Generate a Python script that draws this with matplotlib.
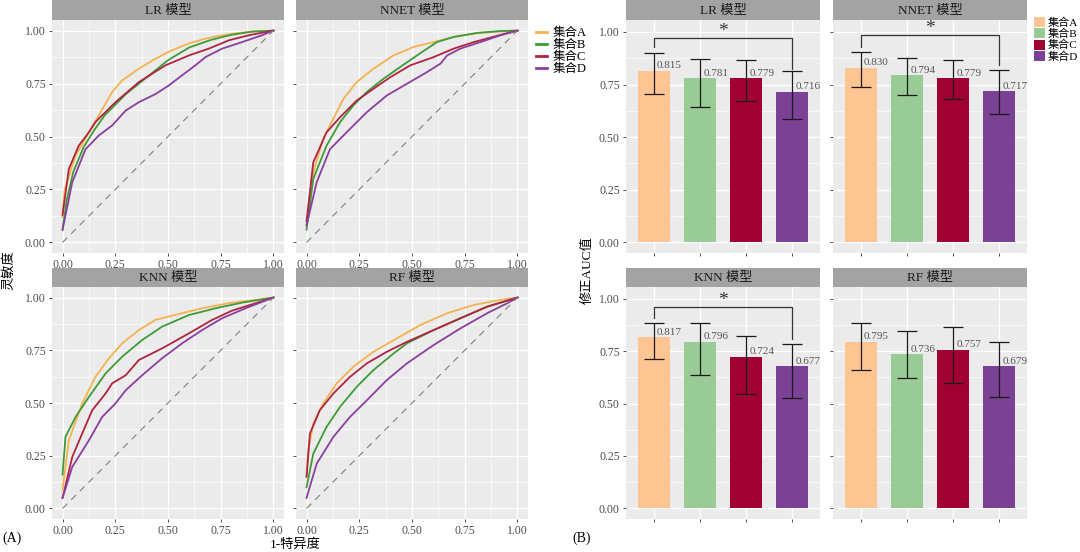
import matplotlib
matplotlib.use("Agg")
import matplotlib.pyplot as plt
from matplotlib.lines import Line2D
from matplotlib.patches import Patch
import numpy as np

plt.rcParams['font.family'] = ['Liberation Serif', 'Noto Sans CJK SC']

# ---- data ----
groups = ['集合A', '集合B', '集合C', '集合D']
models = ['LR 模型', 'NNET 模型', 'KNN 模型', 'RF 模型']

# ROC curves (fpr, tpr)
lr_a_fpr = [0, 0.01, 0.062, 0.125, 0.172, 0.235, 0.283, 0.362, 0.44, 0.504, 0.6, 0.678, 0.757, 0.836, 0.915, 1]
lr_a_tpr = [0.12, 0.25, 0.41, 0.52, 0.60, 0.71, 0.765, 0.82, 0.867, 0.90, 0.94, 0.962, 0.978, 0.989, 0.997, 1]
lr_b_fpr = [0, 0.02, 0.05, 0.1, 0.15, 0.2, 0.25, 0.3, 0.35, 0.4, 0.45, 0.5, 0.55, 0.6, 0.7, 0.8, 0.9, 1]
lr_b_tpr = [0.06, 0.2, 0.33, 0.45, 0.53, 0.6, 0.65, 0.70, 0.74, 0.78, 0.82, 0.86, 0.89, 0.92, 0.955, 0.98, 0.995, 1]
lr_c_fpr = [0, 0.03, 0.077, 0.125, 0.156, 0.172, 0.251, 0.362, 0.488, 0.6, 0.694, 0.788, 0.883, 1]
lr_c_tpr = [0.13, 0.347, 0.457, 0.52, 0.568, 0.584, 0.662, 0.757, 0.836, 0.883, 0.915, 0.954, 0.978, 1]
lr_d_fpr = [0, 0.046, 0.109, 0.172, 0.235, 0.3, 0.362, 0.44, 0.504, 0.567, 0.63, 0.678, 0.757, 0.852, 0.946, 1]
lr_d_tpr = [0.06, 0.284, 0.44, 0.505, 0.552, 0.623, 0.662, 0.70, 0.741, 0.789, 0.836, 0.875, 0.915, 0.946, 0.978, 1]

nnet_a_fpr = [0, 0.032, 0.079, 0.127, 0.175, 0.238, 0.317, 0.413, 0.508, 0.603, 0.698, 0.81, 1]
nnet_a_tpr = [0.08, 0.33, 0.49, 0.584, 0.678, 0.757, 0.82, 0.883, 0.923, 0.946, 0.97, 0.989, 1]
nnet_b_fpr = [0, 0.032, 0.095, 0.159, 0.222, 0.286, 0.365, 0.444, 0.524, 0.619, 0.698, 0.81, 0.92, 1]
nnet_b_tpr = [0.06, 0.30, 0.457, 0.568, 0.647, 0.71, 0.773, 0.828, 0.883, 0.946, 0.97, 0.989, 0.998, 1]
nnet_c_fpr = [0, 0.032, 0.095, 0.159, 0.238, 0.317, 0.397, 0.492, 0.603, 0.698, 0.794, 0.92, 1]
nnet_c_tpr = [0.10, 0.378, 0.52, 0.591, 0.67, 0.725, 0.78, 0.836, 0.875, 0.915, 0.946, 0.98, 1]
nnet_d_fpr = [0, 0.048, 0.111, 0.19, 0.286, 0.381, 0.476, 0.571, 0.635, 0.667, 0.73, 0.825, 0.92, 1]
nnet_d_tpr = [0.08, 0.284, 0.44, 0.52, 0.615, 0.694, 0.749, 0.804, 0.844, 0.883, 0.915, 0.946, 0.978, 1]

knn_a_fpr = [0, 0.03, 0.093, 0.156, 0.22, 0.283, 0.362, 0.44, 0.567, 0.662, 0.788, 0.915, 1]
knn_a_tpr = [0.09, 0.323, 0.498, 0.624, 0.712, 0.783, 0.846, 0.894, 0.926, 0.949, 0.973, 0.989, 1]
knn_b_fpr = [0, 0.014, 0.062, 0.125, 0.204, 0.283, 0.378, 0.472, 0.599, 0.725, 0.852, 1]
knn_b_tpr = [0.16, 0.34, 0.434, 0.529, 0.64, 0.72, 0.799, 0.862, 0.917, 0.949, 0.976, 1]
knn_c_fpr = [0, 0.046, 0.093, 0.141, 0.204, 0.235, 0.30, 0.362, 0.472, 0.599, 0.709, 0.804, 0.915, 1]
knn_c_tpr = [0.05, 0.244, 0.355, 0.466, 0.545, 0.593, 0.632, 0.704, 0.759, 0.83, 0.894, 0.938, 0.973, 1]
knn_d_fpr = [0, 0.046, 0.125, 0.188, 0.251, 0.30, 0.378, 0.472, 0.567, 0.662, 0.757, 0.867, 1]
knn_d_tpr = [0.05, 0.197, 0.323, 0.434, 0.498, 0.561, 0.632, 0.712, 0.783, 0.846, 0.902, 0.949, 1]

rf_a_fpr = [0, 0.008, 0.032, 0.079, 0.143, 0.222, 0.317, 0.429, 0.54, 0.667, 0.794, 0.92, 1]
rf_a_tpr = [0.15, 0.276, 0.403, 0.498, 0.593, 0.672, 0.743, 0.807, 0.87, 0.926, 0.965, 0.989, 1]
rf_b_fpr = [0, 0.032, 0.095, 0.159, 0.238, 0.317, 0.413, 0.476, 0.603, 0.73, 0.857, 1]
rf_b_tpr = [0.10, 0.26, 0.387, 0.482, 0.577, 0.656, 0.735, 0.783, 0.846, 0.902, 0.957, 1]
rf_c_fpr = [0, 0.016, 0.063, 0.127, 0.206, 0.286, 0.381, 0.476, 0.603, 0.73, 0.857, 1]
rf_c_tpr = [0.15, 0.355, 0.466, 0.545, 0.624, 0.688, 0.743, 0.79, 0.846, 0.902, 0.957, 1]
rf_d_fpr = [0, 0.048, 0.127, 0.206, 0.286, 0.381, 0.476, 0.603, 0.73, 0.857, 0.952, 1]
rf_d_tpr = [0.05, 0.212, 0.339, 0.434, 0.513, 0.609, 0.688, 0.775, 0.854, 0.926, 0.973, 1]

# corrected AUC with CI
lr_auc = [0.815, 0.781, 0.779, 0.716]
lr_lo = [0.705, 0.642, 0.672, 0.584]
lr_hi = [0.90, 0.873, 0.865, 0.814]
nnet_auc = [0.830, 0.794, 0.779, 0.717]
nnet_lo = [0.740, 0.699, 0.682, 0.608]
nnet_hi = [0.904, 0.874, 0.866, 0.817]
knn_auc = [0.817, 0.796, 0.724, 0.677]
knn_lo = [0.713, 0.634, 0.544, 0.528]
knn_hi = [0.886, 0.883, 0.822, 0.784]
rf_auc = [0.795, 0.736, 0.757, 0.679]
rf_lo = [0.658, 0.624, 0.599, 0.532]
rf_hi = [0.886, 0.845, 0.866, 0.795]

# significance bracket A vs D: (bar level, left leg end, right leg end)
lr_sig = (0.971, 0.928, 0.823)
nnet_sig = (0.984, 0.93, 0.845)
knn_sig = (0.962, 0.91, 0.808)
rf_sig = None

line_colors = ['#F5B24F', '#3E9B38', '#B0243F', '#8A3F9E']
bar_colors = ['#FDC591', '#98CB96', '#A10032', '#7B4195']

W, H = 1080, 552
fig = plt.figure(figsize=(W / 100, H / 100), dpi=100)


def px_axes(x0, y0, x1, y1):
    return fig.add_axes([x0 / W, 1 - y1 / H, (x1 - x0) / W, (y1 - y0) / H])


def gg_style(ax):
    ax.set_facecolor('#EBEBEB')
    for s in ax.spines.values():
        s.set_visible(False)
    ax.grid(True, which='major', color='white', lw=1.0)
    ax.grid(True, which='minor', color='white', lw=0.5)
    ax.set_axisbelow(True)
    ax.tick_params(which='major', length=2.5, width=0.6, color='#333333',
                   labelsize=8.5, labelcolor='#4D4D4D', pad=2)
    ax.tick_params(which='minor', length=0)


def strip(x0, y0, x1, y1, label):
    s = px_axes(x0, y0, x1, y1)
    s.set_facecolor('#A3A3A3')
    s.set_xticks([])
    s.set_yticks([])
    for sp in s.spines.values():
        sp.set_visible(False)
    s.text(0.5, 0.45, label, ha='center', va='center', fontsize=9.5,
           color='#1A1A1A', transform=s.transAxes)


roc_data = [
    [(lr_a_fpr, lr_a_tpr), (lr_b_fpr, lr_b_tpr), (lr_c_fpr, lr_c_tpr), (lr_d_fpr, lr_d_tpr)],
    [(nnet_a_fpr, nnet_a_tpr), (nnet_b_fpr, nnet_b_tpr), (nnet_c_fpr, nnet_c_tpr), (nnet_d_fpr, nnet_d_tpr)],
    [(knn_a_fpr, knn_a_tpr), (knn_b_fpr, knn_b_tpr), (knn_c_fpr, knn_c_tpr), (knn_d_fpr, knn_d_tpr)],
    [(rf_a_fpr, rf_a_tpr), (rf_b_fpr, rf_b_tpr), (rf_c_fpr, rf_c_tpr), (rf_d_fpr, rf_d_tpr)],
]
bar_data = [
    (lr_auc, lr_lo, lr_hi, lr_sig),
    (nnet_auc, nnet_lo, nnet_hi, nnet_sig),
    (knn_auc, knn_lo, knn_hi, knn_sig),
    (rf_auc, rf_lo, rf_hi, rf_sig),
]

# facet boxes in pixels: (x0, x1) columns, (strip top, panel top, panel bottom) rows
roc_cols = [(52, 284), (296, 528)]
bar_cols = [(626, 820), (833, 1027)]
rows = [(0, 20, 253), (268, 287, 519)]

ticks = [0, 0.25, 0.5, 0.75, 1.0]
ticklabels = ['0.00', '0.25', '0.50', '0.75', '1.00']

for k in range(4):
    r, c = divmod(k, 2)
    st, y0, y1 = rows[r]

    # ROC panel
    x0, x1 = roc_cols[c]
    strip(x0, st, x1, y0, models[k])
    ax = px_axes(x0, y0, x1, y1)
    gg_style(ax)
    for g in range(4):
        f, t = roc_data[k][g]
        ax.plot(f, t, color=line_colors[g], lw=1.3, solid_joinstyle='round')
    ax.plot([0, 1], [0, 1], color='#7F7F7F', lw=0.8, ls=(0, (6, 5)))
    ax.set_xlim(-0.05, 1.05)
    ax.set_ylim(-0.05, 1.05)
    ax.set_xticks(ticks)
    ax.set_xticklabels(ticklabels)
    ax.set_xticks([0.125, 0.375, 0.625, 0.875], minor=True)
    ax.set_yticks(ticks)
    ax.set_yticks([0.125, 0.375, 0.625, 0.875], minor=True)
    if c == 0:
        ax.set_yticklabels(ticklabels)
    else:
        ax.set_yticklabels([])

    # bar panel
    x0, x1 = bar_cols[c]
    strip(x0, st, x1, y0, models[k])
    ax = px_axes(x0, y0, x1, y1)
    gg_style(ax)
    auc, lo, hi, sig = bar_data[k]
    xs = np.arange(1, 5)
    auc_arr = np.array(auc)
    ax.bar(xs, auc_arr, width=0.7, color=bar_colors, zorder=2)
    ax.errorbar(xs, auc_arr, yerr=[auc_arr - np.array(lo), np.array(hi) - auc_arr],
                fmt='none', ecolor='#1A1A1A', elinewidth=0.9, capsize=7,
                capthick=0.9, zorder=3)
    for xi, v in zip(xs, auc):
        ax.text(xi + 0.07, v + 0.002, f'{v:.3f}', ha='left', va='bottom',
                fontsize=8, color='#555555', zorder=4)
    if sig is not None:
        top, legl, legr = sig
        ax.plot([1, 1, 4, 4], [legl, top, top, legr], color='#333333', lw=0.9, zorder=3)
        ax.text(2.5, top - 0.01, '*', ha='center', va='bottom', fontsize=14,
                color='#333333')
    ax.set_xlim(0.4, 4.6)
    ax.set_ylim(-0.052, 1.057)
    ax.set_xticks(xs)
    ax.set_xticklabels([])
    ax.set_yticks(ticks)
    ax.set_yticks([0.125, 0.375, 0.625, 0.875], minor=True)
    if c == 0:
        ax.set_yticklabels(ticklabels)
    else:
        ax.set_yticklabels([])

# legends
line_handles = [Line2D([0], [0], color=line_colors[i], lw=2) for i in range(4)]
fig.legend(line_handles, groups, loc='upper left', bbox_to_anchor=(531 / W, 1 - 22 / H),
           frameon=False, fontsize=9, handlelength=0.9, handletextpad=0.4,
           labelspacing=0.0, borderaxespad=0)
patch_handles = [Patch(facecolor=bar_colors[i], edgecolor='none') for i in range(4)]
fig.legend(patch_handles, groups, loc='upper left', bbox_to_anchor=(1034 / W, 1 - 17 / H),
           frameon=False, fontsize=8, handlelength=1.0, handleheight=1.0,
           handletextpad=0.25, labelspacing=0.05, borderaxespad=0, borderpad=0)

# axis titles and panel tags
fig.text(9 / W, 1 - 270 / H, '灵敏度', rotation=90, ha='center', va='center', fontsize=9.5)
fig.text(295 / W, 1 - 545 / H, '1-特异度', ha='center', va='center', fontsize=9.5)
fig.text(588 / W, 1 - 270 / H, '修正AUC值', rotation=90, ha='center', va='center', fontsize=9.5)
fig.text(2 / W, 1 - 538 / H, '(A)', ha='left', va='center', fontsize=10)
fig.text(572 / W, 1 - 538 / H, '(B)', ha='left', va='center', fontsize=10)

fig.savefig('out.png', dpi=100, facecolor='white')
